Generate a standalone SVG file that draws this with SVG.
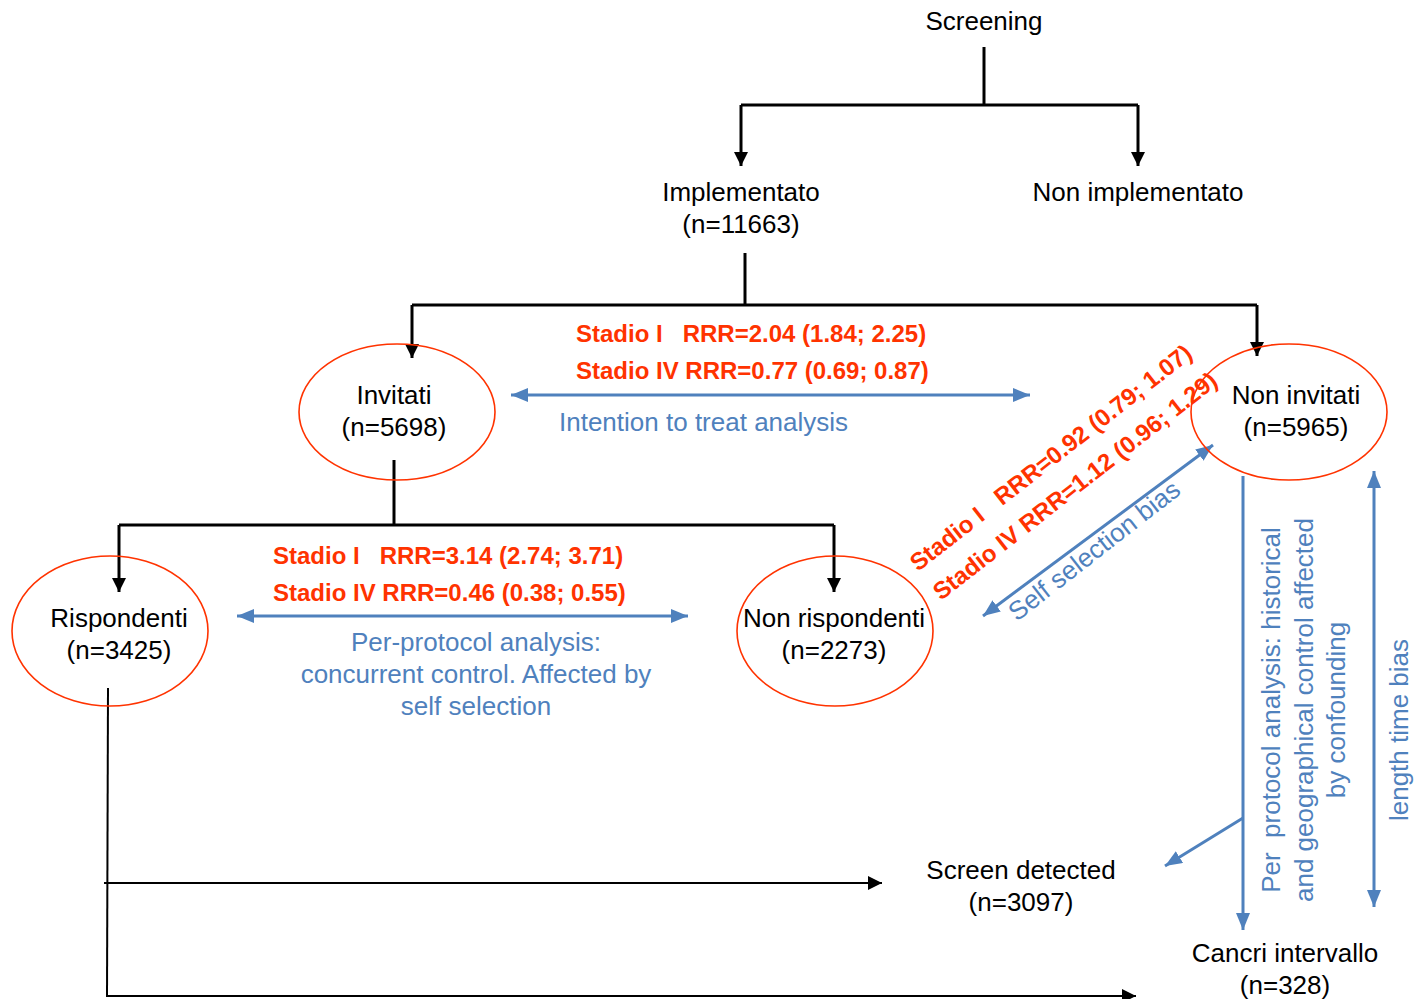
<svg xmlns="http://www.w3.org/2000/svg" width="1417" height="999" viewBox="0 0 1417 999">
<style>
.t{font-family:"Liberation Sans",Arial,sans-serif;font-size:26px;fill:#000;text-anchor:middle}
.b{font-family:"Liberation Sans",Arial,sans-serif;font-size:26px;fill:#4f81bd}
.r{font-family:"Liberation Sans",Arial,sans-serif;font-size:24px;font-weight:bold;fill:#ff3300;white-space:pre}
.k{fill:none;stroke:#000;stroke-width:3}
.k2{fill:none;stroke:#000;stroke-width:2}
.bl{fill:none;stroke:#4f81bd;stroke-width:3}
.e{fill:none;stroke:#ff3300;stroke-width:1.6}
</style>
<defs>
<marker id="ak" markerUnits="userSpaceOnUse" markerWidth="14" markerHeight="14" refX="14" refY="7" orient="auto"><path d="M0,0 L14,7 L0,14 z" fill="#000"/></marker>
<marker id="ab" markerUnits="userSpaceOnUse" markerWidth="17" markerHeight="14" refX="17" refY="7" orient="auto-start-reverse"><path d="M0,0 L17,7 L0,14 z" fill="#4f81bd"/></marker>
</defs>
<rect width="1417" height="999" fill="#fff"/>
<g id="connectors">
<path class="k" d="M984,47 V105"/>
<path class="k" d="M741,105 H1138"/>
<path class="k" d="M741,105 V166" marker-end="url(#ak)"/>
<path class="k" d="M1138,105 V166" marker-end="url(#ak)"/>
<path class="k" d="M745,253 V305"/>
<path class="k" d="M412,305 H1257"/>
<path class="k" d="M412,305 V358" marker-end="url(#ak)"/>
<path class="k" d="M1257,305 V356" marker-end="url(#ak)"/>
<path class="k" d="M394,460 V525"/>
<path class="k" d="M119,525 H834"/>
<path class="k" d="M119,525 V592" marker-end="url(#ak)"/>
<path class="k" d="M834,525 V592" marker-end="url(#ak)"/>
<path class="k2" d="M108,688 L107,997"/>
<path class="k2" d="M104,883 H882" marker-end="url(#ak)"/>
<path class="k2" d="M107,996 H1136" marker-end="url(#ak)"/>
<path class="bl" d="M511,395 H1030" marker-start="url(#ab)" marker-end="url(#ab)"/>
<path class="bl" d="M237,616 H688" marker-start="url(#ab)" marker-end="url(#ab)"/>
<path class="bl" d="M983,616 L1213,445" marker-start="url(#ab)" marker-end="url(#ab)"/>
<path class="bl" d="M1243,476 V930" marker-end="url(#ab)"/>
<path class="bl" d="M1243,818 L1165,866" marker-end="url(#ab)"/>
<path class="bl" d="M1374,471 V907" marker-start="url(#ab)" marker-end="url(#ab)"/>
</g>
<g id="screening"><text class="t" x="984" y="30">Screening</text></g>
<g id="implementato"><text class="t" x="741" y="201">Implementato</text><text class="t" x="741" y="233">(n=11663)</text></g>
<g id="non-implementato"><text class="t" x="1138" y="201">Non implementato</text></g>
<g id="invitati"><ellipse class="e" cx="397" cy="412" rx="98" ry="68"/><text class="t" x="394" y="404">Invitati</text><text class="t" x="394" y="436">(n=5698)</text></g>
<g id="non-invitati"><ellipse class="e" cx="1289" cy="412" rx="98" ry="68"/><text class="t" x="1296" y="404">Non invitati</text><text class="t" x="1296" y="436">(n=5965)</text></g>
<g id="rispondenti"><ellipse class="e" cx="110" cy="631" rx="98" ry="75"/><text class="t" x="119" y="627">Rispondenti</text><text class="t" x="119" y="659">(n=3425)</text></g>
<g id="non-rispondenti"><ellipse class="e" cx="835" cy="631" rx="98" ry="75"/><text class="t" x="834" y="627">Non rispondenti</text><text class="t" x="834" y="659">(n=2273)</text></g>
<g id="screen-detected"><text class="t" x="1021" y="879">Screen detected</text><text class="t" x="1021" y="911">(n=3097)</text></g>
<g id="cancri-intervallo"><text class="t" x="1285" y="962">Cancri intervallo</text><text class="t" x="1285" y="994">(n=328)</text></g>
<g id="labels">
<text class="r" x="576" y="342">Stadio I   RRR=2.04 (1.84; 2.25)</text>
<text class="r" x="576" y="379">Stadio IV RRR=0.77 (0.69; 0.87)</text>
<text class="b" x="559" y="431">Intention to treat analysis</text>
<text class="r" x="273" y="564">Stadio I   RRR=3.14 (2.74; 3.71)</text>
<text class="r" x="273" y="601">Stadio IV RRR=0.46 (0.38; 0.55)</text>
<text class="b" text-anchor="middle" x="476" y="651">Per-protocol analysis:</text>
<text class="b" text-anchor="middle" x="476" y="683">concurrent control. Affected by</text>
<text class="b" text-anchor="middle" x="476" y="715">self selection</text>
<text class="r" transform="translate(918,572) rotate(-38)">Stadio I   RRR=0.92 (0.79; 1.07)</text>
<text class="r" transform="translate(941,601) rotate(-38)">Stadio IV RRR=1.12 (0.96; 1.29)</text>
<text class="b" transform="translate(1017,622) rotate(-38)">Self selection bias</text>
<text class="b" text-anchor="middle" style="white-space:pre" transform="translate(1280,710) rotate(-90)">Per  protocol analysis: historical</text>
<text class="b" text-anchor="middle" transform="translate(1313,710) rotate(-90)">and geographical control affected</text>
<text class="b" text-anchor="middle" transform="translate(1345,710) rotate(-90)">by confounding</text>
<text class="b" text-anchor="middle" transform="translate(1408,730) rotate(-90)">length time bias</text>
</g>
</svg>
